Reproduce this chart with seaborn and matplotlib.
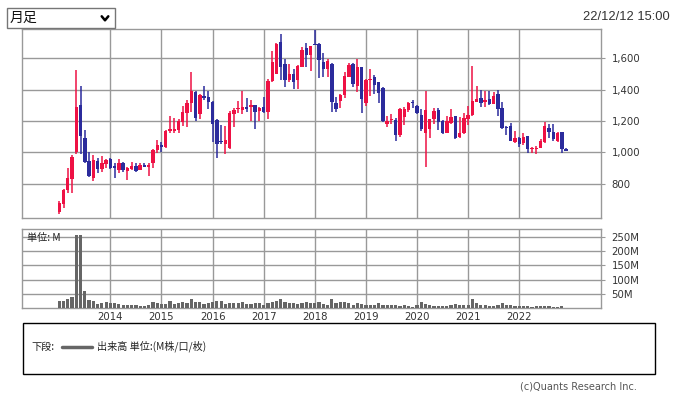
import numpy as np
import pandas as pd
import matplotlib
matplotlib.use('Agg')
import matplotlib.pyplot as plt
import seaborn as sns
from matplotlib.lines import Line2D
from matplotlib.patches import Rectangle

# monthly candles, Jan 2013 - Dec 2022
months = pd.date_range('2013-01-01', '2022-12-01', freq='MS')
opens = [620, 671, 759, 831, 1000, 1303, 1092, 945, 836, 945,
         895, 923, 957, 910, 887, 932, 881, 895, 913, 887,
         919, 908, 930, 1015, 1047, 1032, 1137, 1137, 1143, 1196,
         1252, 1316, 1386, 1243, 1361, 1356, 1324, 1207, 1075, 1055,
         1026, 1243, 1279, 1271, 1290, 1292, 1301, 1265, 1290, 1260,
         1456, 1503, 1702, 1563, 1463, 1503, 1463, 1548, 1666, 1623,
         1691, 1693, 1580, 1535, 1565, 1318, 1328, 1367, 1484, 1563,
         1426, 1544, 1318, 1459, 1478, 1448, 1410, 1183, 1207, 1207,
         1113, 1224, 1271, 1324, 1296, 1239, 1126, 1149, 1211, 1271,
         1203, 1126, 1186, 1232, 1100, 1122, 1211, 1239, 1324, 1346,
         1324, 1341, 1311, 1373, 1282, 1164, 1169, 1068, 1094, 1058,
         1105, 1019, 1019, 1030, 1064, 1156, 1130, 1073, 1130, 1021]
highs = [691, 763, 902, 983, 1527, 1424, 1143, 1000, 983, 962,
         977, 955, 962, 930, 957, 936, 904, 938, 930, 934,
         934, 934, 1019, 1079, 1068, 1141, 1235, 1218, 1211, 1296,
         1335, 1510, 1390, 1373, 1424, 1392, 1328, 1211, 1175, 1171,
         1267, 1286, 1328, 1392, 1346, 1335, 1305, 1290, 1356, 1467,
         1648, 1697, 1757, 1595, 1567, 1531, 1557, 1672, 1700, 1680,
         1780, 1697, 1634, 1595, 1570, 1356, 1371, 1516, 1570, 1570,
         1597, 1548, 1467, 1531, 1495, 1452, 1420, 1232, 1245, 1218,
         1282, 1288, 1324, 1331, 1303, 1277, 1392, 1215, 1282, 1282,
         1207, 1232, 1277, 1235, 1224, 1254, 1296, 1552, 1424, 1399,
         1392, 1392, 1388, 1399, 1324, 1166, 1186, 1137, 1096, 1122,
         1107, 1032, 1041, 1083, 1194, 1179, 1179, 1130, 1132, 1030]
lows = [607, 642, 742, 742, 989, 987, 930, 844, 817, 870,
        874, 900, 895, 838, 866, 876, 823, 887, 876, 885,
        906, 851, 902, 994, 1002, 1026, 1122, 1122, 1122, 1171,
        1164, 1258, 1200, 1211, 1335, 1279, 1064, 962, 1055, 987,
        1021, 1160, 1250, 1243, 1260, 1203, 1149, 1203, 1250, 1211,
        1452, 1499, 1463, 1420, 1452, 1405, 1405, 1544, 1542, 1520,
        1683, 1474, 1480, 1484, 1256, 1256, 1286, 1346, 1480, 1420,
        1388, 1250, 1296, 1360, 1373, 1318, 1194, 1160, 1181, 1075,
        1096, 1175, 1260, 1282, 1245, 1137, 908, 1090, 1181, 1143,
        1117, 1122, 1181, 1085, 1094, 1117, 1175, 1233, 1324, 1288,
        1288, 1303, 1307, 1235, 1149, 1111, 1075, 1058, 1032, 1047,
        998, 998, 987, 1026, 1058, 1094, 1073, 1068, 998, 1008]
closes = [678, 759, 836, 970, 1290, 1107, 940, 851, 951, 895,
          932, 951, 902, 902, 932, 887, 900, 913, 881, 919,
          908, 919, 1015, 1047, 1036, 1137, 1149, 1149, 1200, 1258,
          1316, 1392, 1222, 1367, 1350, 1324, 1183, 1055, 1066, 1079,
          1252, 1271, 1286, 1290, 1279, 1301, 1256, 1286, 1260, 1456,
          1574, 1693, 1548, 1463, 1503, 1452, 1552, 1655, 1623, 1676,
          1685, 1587, 1535, 1584, 1324, 1277, 1367, 1488, 1559, 1437,
          1544, 1341, 1463, 1469, 1429, 1378, 1200, 1200, 1213, 1113,
          1277, 1277, 1314, 1314, 1250, 1149, 1271, 1211, 1267, 1192,
          1126, 1203, 1224, 1094, 1122, 1222, 1239, 1329, 1341, 1318,
          1335, 1311, 1361, 1277, 1158, 1156, 1075, 1094, 1055, 1100,
          1023, 1030, 1026, 1073, 1169, 1130, 1083, 1126, 1019, 1011]
# volume in millions
volumes = [26, 27, 33, 41, 257, 256, 60, 29, 26, 16,
           20, 22, 19, 17, 15, 12, 13, 13, 12, 8,
           9, 13, 21, 20, 15, 15, 26, 15, 20, 21,
           19, 33, 22, 22, 15, 19, 22, 24, 26, 15,
           19, 19, 19, 22, 14, 16, 19, 19, 12, 17,
           21, 26, 33, 22, 17, 19, 15, 19, 21, 19,
           20, 22, 15, 13, 33, 20, 22, 22, 19, 13,
           19, 16, 12, 12, 12, 19, 12, 12, 12, 12,
           8, 12, 9, 6, 13, 22, 15, 12, 8, 8,
           8, 8, 10, 15, 13, 10, 10, 33, 19, 13,
           12, 8, 9, 12, 19, 12, 12, 9, 8, 8,
           8, 6, 7, 7, 7, 7, 6, 6, 8, 1]
year_ticks = [2014, 2015, 2016, 2017, 2018, 2019, 2020, 2021, 2022]
price_ticks = [800, 1000, 1200, 1400, 1600]
vol_ticks = [50, 100, 150, 200, 250]

sns.set_style('white')
plt.rcParams['font.family'] = ['DejaVu Sans', 'Noto Sans CJK JP']
jp = ['Noto Sans CJK JP', 'DejaVu Sans']

df = pd.DataFrame({'month': months, 'open': opens, 'high': highs,
                   'low': lows, 'close': closes, 'volume': volumes})
df['pos'] = np.arange(len(df))
year_pos = [int(df.index[df['month'] == pd.Timestamp(f'{y}-01-01')][0])
            for y in year_ticks]

W, H = 676, 395
fig = plt.figure(figsize=(W / 100, H / 100), dpi=100)


def fx(px):
    return px / W


def fy(py):
    return 1 - py / H


ax = fig.add_axes([fx(22), fy(217.7), fx(579), (217.7 - 28.5) / H])
axv = fig.add_axes([fx(22), fy(308.3), fx(579), (308.3 - 229.3) / H])

red, navy, grid_c = '#ee1144', '#2b2b9c', '#999999'
colors = np.where(df['close'] >= df['open'], red, navy)

# candles
ax.vlines(df['pos'], df['low'], df['high'], colors=colors, linewidth=1.1, zorder=3)
body_lo = df[['open', 'close']].min(axis=1)
body_h = (df['close'] - df['open']).abs().clip(lower=6)
ax.bar(df['pos'], body_h, bottom=body_lo, width=0.8, color=colors,
       linewidth=0, zorder=3)

# volume
sns.barplot(data=df, x='pos', y='volume', ax=axv, color='#666666',
            native_scale=True, width=0.75, errorbar=None, saturation=1,
            linewidth=0, zorder=3)

for a in (ax, axv):
    a.set_xlim(-8.75, 127.2)
    a.set_xticks(year_pos)
    a.yaxis.tick_right()
    a.grid(True, color=grid_c, linewidth=1)
    a.set_axisbelow(True)
    a.set_xlabel('')
    a.set_ylabel('')
    for s in a.spines.values():
        s.set_color(grid_c)
        s.set_linewidth(1)
    a.tick_params(axis='y', length=3, color=grid_c, pad=4.5,
                  labelsize=7.3, labelcolor='#333333')
    a.tick_params(axis='x', length=0)

ax.set_ylim(582, 1791)
ax.set_yticks(price_ticks)
ax.set_yticklabels([f'{v:,}' for v in price_ticks])
ax.tick_params(axis='x', labelbottom=False)

axv.set_ylim(0, 276)
axv.set_yticks(vol_ticks)
axv.set_yticklabels([f'{v}M' for v in vol_ticks])
axv.set_xticklabels([str(y) for y in year_ticks])
axv.tick_params(axis='x', labelsize=7.3, labelcolor='#333333', pad=2.5)
axv.text(0.008, 0.96, '単位: M', transform=axv.transAxes, fontsize=7.3,
         family=jp, va='top', ha='left', color='#222222', zorder=5)

# header: period selector and timestamp
fig.add_artist(Rectangle((fx(6.5), fy(27.5)), fx(108.5), (27.5 - 8) / H,
                         transform=fig.transFigure, fill=False,
                         edgecolor='#767676', linewidth=1))
fig.text(fx(10), fy(18), '月足', fontsize=10, family=jp, va='center', ha='left',
         color='#111111')
fig.add_artist(Line2D([fx(101.7), fx(105), fx(108.3)], [fy(16.3), fy(20.3), fy(16.3)],
                      transform=fig.transFigure, color='black', linewidth=1.8))
fig.text(fx(670), fy(17), '22/12/12 15:00', fontsize=9.3, family='Liberation Sans',
         va='center', ha='right', color='#333333')

# legend box
fig.add_artist(Rectangle((fx(22.5), fy(374.3)), fx(632.5), (374.3 - 323.3) / H,
                         transform=fig.transFigure, fill=False,
                         edgecolor='black', linewidth=1))
fig.text(fx(31), fy(346.5), '下段:', fontsize=7.3, family=jp, va='center',
         ha='left', color='#222222')
fig.add_artist(Line2D([fx(62), fx(92)], [fy(346.5), fy(346.5)],
                      transform=fig.transFigure, color='#666666', linewidth=2.5))
fig.text(fx(97), fy(346.5), '出来高 単位:(M株/口/枚)', fontsize=7.3, family=jp,
         va='center', ha='left', color='#222222')
fig.text(fx(637), fy(386.5), '(c)Quants Research Inc.', fontsize=7, va='center',
         ha='right', color='#555555')

fig.savefig('out.png', dpi=100)
